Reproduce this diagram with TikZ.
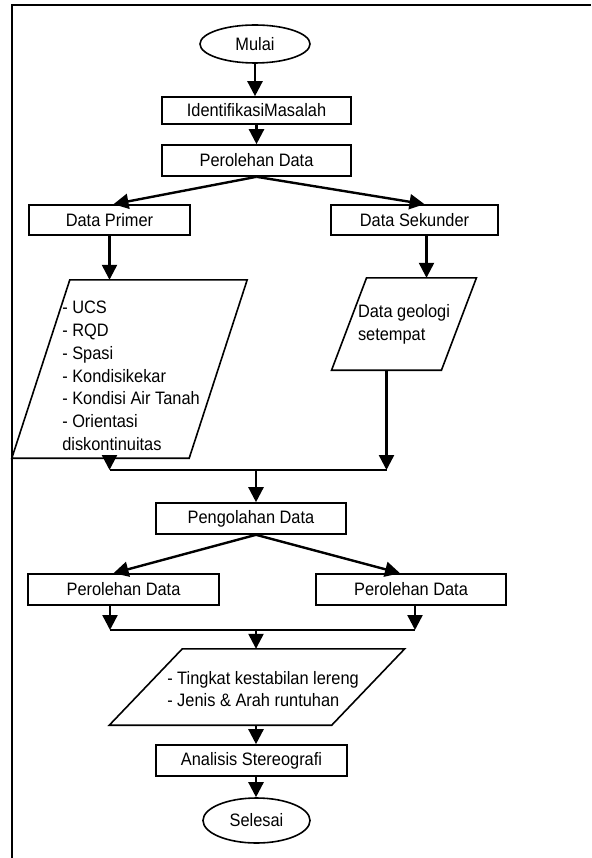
\documentclass[tikz,border=0pt]{standalone}
\usepackage{fontspec}
\setmainfont{Liberation Sans}[FakeStretch=0.91]
\usetikzlibrary{shapes.geometric,arrows.meta}

\begin{document}
\begin{tikzpicture}[x=1pt, y=-1pt,
    font=\fontsize{18}{22.8}\selectfont,
    box/.style={draw, rectangle, line width=1.6pt, inner sep=0pt},
    term/.style={draw, ellipse, line width=1.6pt, inner sep=0pt},
    io/.style={rectangle, inner sep=0pt},
    outline/.style={line width=1.6pt, line join=miter},
    flow/.style={line width=2.4pt, -{Triangle[length=15pt,width=15pt]}},
    link/.style={line width=2.4pt}]
    \useasboundingbox (0,0) rectangle (591,858);
    \draw[line width=2pt] (11.5,858) -- (11.5,5) -- (591,5);

    \node[term, minimum width=110pt, minimum height=38pt] (mulai) at (255,44) {Mulai};
    \node[box, minimum width=189pt, minimum height=27pt] (ident) at (256.5,110.5) {IdentifikasiMasalah};
    \node[box, minimum width=189pt, minimum height=31pt] (perol) at (256.5,160.5) {Perolehan Data};
    \node[box, minimum width=161pt, minimum height=30pt] (primer) at (109.5,220) {Data Primer};
    \node[box, minimum width=167pt, minimum height=30pt] (sekunder) at (414.5,220) {Data Sekunder};

    % data masukan (jajaran genjang)
    \node[io, minimum width=177pt, minimum height=178pt] (prim) at (129.5,369) {};
    \node[align=left] (primtxt) at (131,376) {- UCS\\- RQD\\- Spasi\\- Kondisikekar\\- Kondisi Air Tanah\\- Orientasi\\diskontinuitas};
    \draw[outline] ([xshift=-29pt]prim.south west) -- ([xshift=-29pt]prim.south east)
        -- ([xshift=29pt]prim.north east) -- ([xshift=29pt]prim.north west) -- cycle;
    \node[io, align=left, minimum width=109.5pt, minimum height=92pt] (sek) at (404,324) {Data geologi\\setempat};
    \draw[outline] ([xshift=-17.5pt]sek.south west) -- ([xshift=-17.5pt]sek.south east)
        -- ([xshift=17.5pt]sek.north east) -- ([xshift=17.5pt]sek.north west) -- cycle;

    \node[box, minimum width=190pt, minimum height=31pt] (olah) at (251,518.5) {Pengolahan Data};
    \node[box, minimum width=191pt, minimum height=31pt] (hasilkiri) at (123.5,589.5) {Perolehan Data};
    \node[box, minimum width=190pt, minimum height=31pt] (hasilkanan) at (411,589.5) {Perolehan Data};

    \node[io, minimum width=222pt, minimum height=76pt] (stab) at (257,687) {};
    \node[align=left] (stabtxt) at (263,689) {- Tingkat kestabilan lereng\\- Jenis \& Arah runtuhan};
    \draw[outline] ([xshift=-36.5pt]stab.south west) -- ([xshift=-36.5pt]stab.south east)
        -- ([xshift=36.5pt]stab.north east) -- ([xshift=36.5pt]stab.north west) -- cycle;

    \node[box, minimum width=191pt, minimum height=31pt] (stereo) at (251.5,760.5) {Analisis Stereografi};
    \node[term, minimum width=107pt, minimum height=45pt] (selesai) at (256.5,820.5) {Selesai};

    \coordinate (gabung1) at (256,470);
    \coordinate (gabung2) at (256,630);
    \coordinate (sekbawah) at ([xshift=-17.5pt]sek.south);
    \coordinate (kiribawah) at ([xshift=-13.5pt]hasilkiri.south);
    \coordinate (kananbawah) at ([xshift=4pt]hasilkanan.south);

    \draw[flow] (mulai.south) -- (mulai.south |- ident.north);
    \draw[flow] (ident.south) -- (perol.north);
    \draw[flow] (perol.south) -- ([xshift=4pt]primer.north);
    \draw[flow] (perol.south) -- ([xshift=10pt]sekunder.north);
    \draw[flow] (primer.south) -- (primer.south |- prim.north);
    \draw[flow] ([xshift=12pt]sekunder.south) -- ([xshift=12pt]sekunder.south |- sek.north);

    \draw[flow] (primer.south |- prim.south) -- (primer.south |- gabung1);
    \draw[flow] (sekbawah) -- (sekbawah |- gabung1);
    \draw[link] (primer.south |- gabung1) -- (sekbawah |- gabung1);
    \draw[flow] (gabung1) -- (gabung1 |- olah.north);

    \draw[flow] (gabung1 |- olah.south) -- ([xshift=-10pt]hasilkiri.north);
    \draw[flow] (gabung1 |- olah.south) -- ([xshift=-11pt]hasilkanan.north);
    \draw[flow] (kiribawah) -- (kiribawah |- gabung2);
    \draw[flow] (kananbawah) -- (kananbawah |- gabung2);
    \draw[link] (kiribawah |- gabung2) -- (kananbawah |- gabung2);
    \draw[flow] (gabung2) -- (gabung2 |- stab.north);

    \draw[flow] (gabung2 |- stab.south) -- (gabung2 |- stereo.north);
    \draw[flow] (gabung2 |- stereo.south) -- (gabung2 |- selesai.north);
\end{tikzpicture}
\end{document}
